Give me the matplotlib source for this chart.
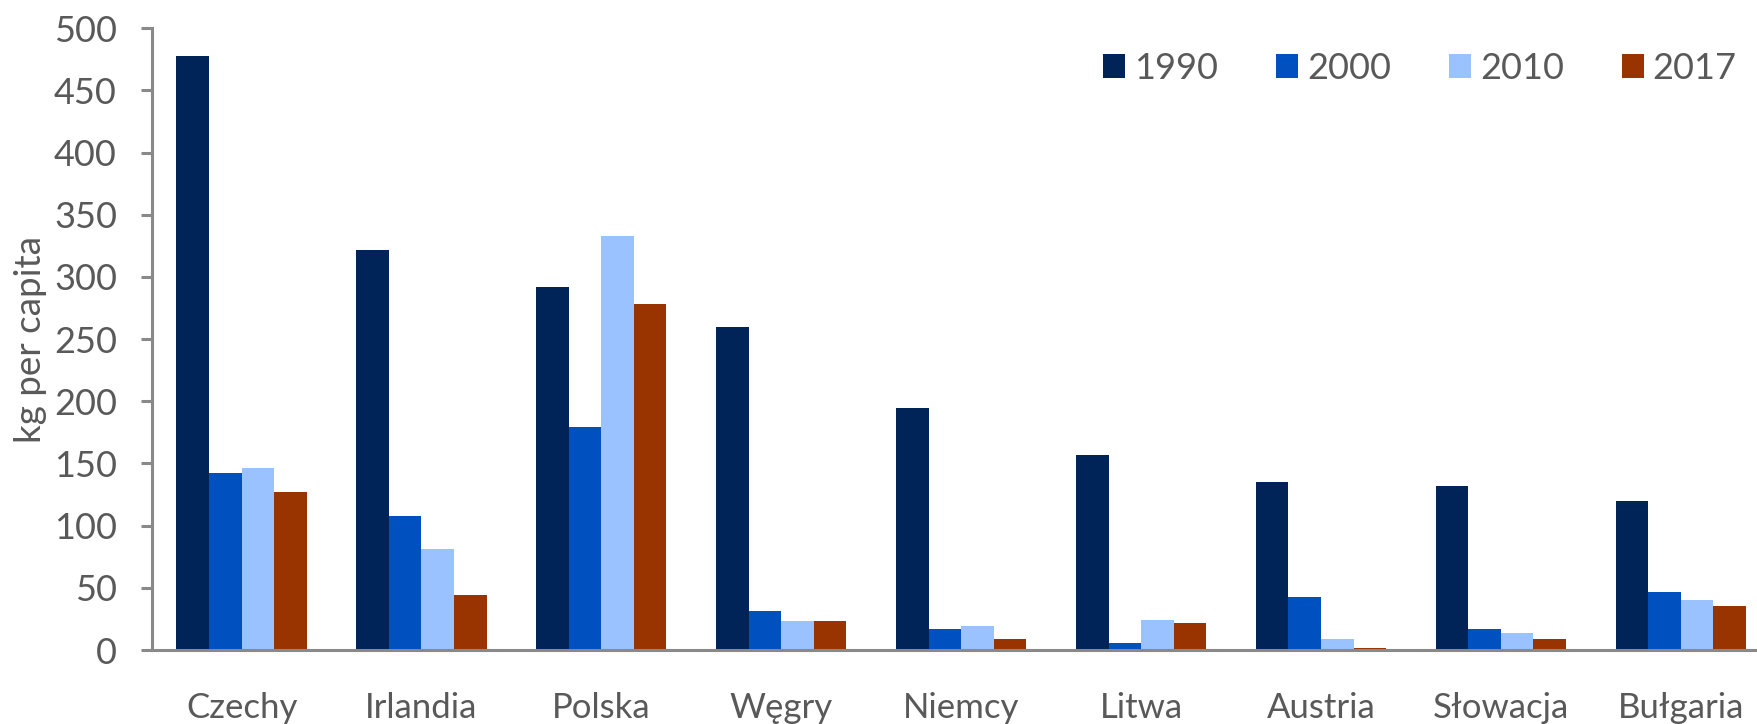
import matplotlib
matplotlib.use("Agg")
import matplotlib.pyplot as plt
import numpy as np

# values (kg per capita)
countries = ["Czechy", "Irlandia", "Polska", "Węgry", "Niemcy",
             "Litwa", "Austria", "Słowacja", "Bułgaria"]
years = ["1990", "2000", "2010", "2017"]
v1990 = [478, 322, 292, 260, 195, 157, 135, 132, 120]
v2000 = [142, 108, 179, 31, 17, 6, 43, 17, 47]
v2010 = [146, 81, 333, 23, 19, 24, 9, 14, 40]
v2017 = [127, 44, 278, 23, 9, 22, 2, 9, 35]
colors = ["#002458", "#0050C0", "#99C2FF", "#993300"]

plt.rcParams["font.family"] = ["Lato", "DejaVu Sans"]
text_color = "#595959"
axis_color = "#898989"

fig = plt.figure(figsize=(17.57, 7.24), dpi=100)
ax = fig.add_axes([0.0863, 0.1022, 0.9215, 0.8587])

x = np.arange(len(countries))
width = 0.181
series = [v1990, v2000, v2010, v2017]
for i, (vals, year, col) in enumerate(zip(series, years, colors)):
    ax.bar(x + (i - 1.5) * width, vals, width, color=col, label=year,
           linewidth=0)

ax.set_xlim(-0.5, len(countries) - 0.5)
ax.set_ylim(0, 500)
ax.set_yticks(range(0, 501, 50))
ax.set_xticks(x)
ax.set_xticklabels(countries)

for side in ["top", "right"]:
    ax.spines[side].set_visible(False)
for side in ["left", "bottom"]:
    ax.spines[side].set_color(axis_color)
    ax.spines[side].set_linewidth(2.2)

ax.tick_params(axis="y", direction="out", length=8, width=2.2,
               color=axis_color, labelsize=26, labelcolor=text_color, pad=17)
ax.tick_params(axis="x", length=0, labelsize=25, labelcolor=text_color, pad=30)

ax.set_ylabel("kg per capita", fontsize=26.5, color=text_color)
ax.yaxis.set_label_coords(-0.0649, 0.5)

fig.legend(loc="center left", bbox_to_anchor=(0.6278, 0.906), ncol=4,
           frameon=False, fontsize=26, labelcolor=text_color,
           handlelength=0.61, handleheight=0.64, handletextpad=0.25,
           columnspacing=1.6, borderpad=0, borderaxespad=0)

fig.savefig("out.png", dpi=100, facecolor="white")
